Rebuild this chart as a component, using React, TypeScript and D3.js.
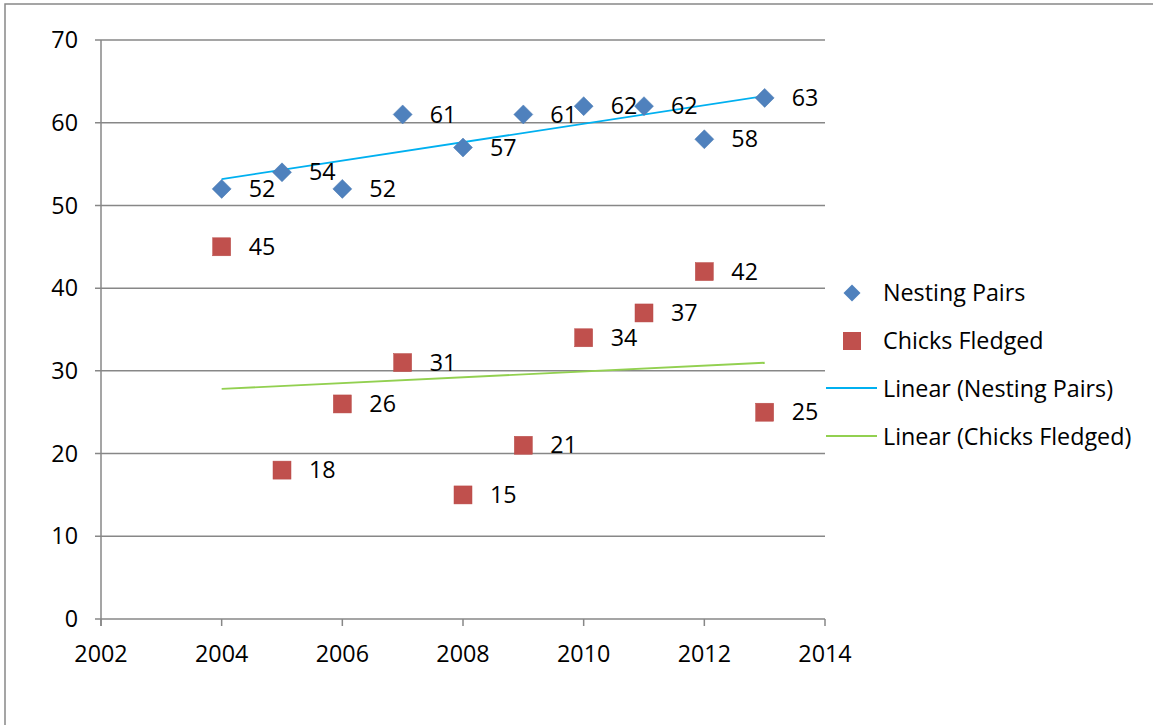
import React from "react";
import * as d3 from "d3";

const years = [2004, 2005, 2006, 2007, 2008, 2009, 2010, 2011, 2012, 2013];
const nestingPairs = [52, 54, 52, 61, 57, 61, 62, 62, 58, 63];
const chicksFledged = [45, 18, 26, 31, 15, 21, 34, 37, 42, 25];
const xTicks = [2002, 2004, 2006, 2008, 2010, 2012, 2014];
const yTicks = [0, 10, 20, 30, 40, 50, 60, 70];
const legendLabels = ["Nesting Pairs", "Chicks Fledged", "Linear (Nesting Pairs)", "Linear (Chicks Fledged)"];

const W = 1153, H = 725;
const FONT = "'Open Sans', Lato, sans-serif";
const FS = 23.3;
const BLUE = "#4F81BD", RED = "#C0504D", CYAN = "#00B0F0", GREEN = "#92D050", GRID = "#878787";

function regression(xs: number[], ys: number[]) {
  const mx = d3.mean(xs)!, my = d3.mean(ys)!;
  let sxy = 0, sxx = 0;
  xs.forEach((x, i) => { sxy += (x - mx) * (ys[i] - my); sxx += (x - mx) ** 2; });
  const b = sxy / sxx;
  return (x: number) => my + b * (x - mx);
}

export default function App() {
  const x = d3.scaleLinear().domain([2002, 2014]).range([101, 825]);
  const y = d3.scaleLinear().domain([0, 70]).range([619, 40]);
  const fN = regression(years, nestingPairs);
  const fC = regression(years, chicksFledged);
  const x0 = years[0], x1 = years[years.length - 1];
  const line = d3.line<[number, number]>().x(d => x(d[0])).y(d => y(d[1]));
  const diamond = (cx: number, cy: number, r = 9.5) => `M${cx},${cy - r}L${cx + r},${cy}L${cx},${cy + r}L${cx - r},${cy}Z`;
  const sq = 18;
  return (
    <svg width={W} height={H} style={{ position: "absolute", left: 0, top: 0, background: "#fff" }} fontFamily={FONT}>
      <rect x={5} y={4} width={W + 10} height={H + 10} fill="#fff" stroke="#888" strokeWidth={1.5} />
      {yTicks.map(t => (
        <g key={t}>
          <line x1={95} x2={825} y1={y(t)} y2={y(t)} stroke={GRID} strokeWidth={1.5} />
          <text x={78} y={y(t)} dy="0.35em" textAnchor="end" fontSize={FS}>{t}</text>
        </g>
      ))}
      <line x1={x(2002)} x2={x(2002)} y1={y(70)} y2={y(0) + 7} stroke={GRID} strokeWidth={1.5} />
      {xTicks.map(t => (
        <g key={t}>
          <line x1={x(t)} x2={x(t)} y1={y(0)} y2={y(0) + 7} stroke={GRID} strokeWidth={1.5} />
          <text x={x(t)} y={662} textAnchor="middle" fontSize={FS}>{t}</text>
        </g>
      ))}
      <path d={line([[x0, fN(x0)], [x1, fN(x1)]])!} stroke={CYAN} strokeWidth={1.8} fill="none" />
      <path d={line([[x0, fC(x0)], [x1, fC(x1)]])!} stroke={GREEN} strokeWidth={1.8} fill="none" />
      {years.map((yr, i) => (
        <g key={"n" + yr}>
          <path d={diamond(x(yr), y(nestingPairs[i]))} fill={BLUE} stroke="#4a7ab3" strokeWidth={0.5} />
          <text x={x(yr) + 27} y={y(nestingPairs[i])} dy="0.35em" fontSize={FS}>{nestingPairs[i]}</text>
        </g>
      ))}
      {years.map((yr, i) => (
        <g key={"c" + yr}>
          <rect x={x(yr) - sq / 2} y={y(chicksFledged[i]) - sq / 2} width={sq} height={sq} fill={RED} stroke="#b84a47" strokeWidth={0.5} />
          <text x={x(yr) + 27} y={y(chicksFledged[i])} dy="0.35em" fontSize={FS}>{chicksFledged[i]}</text>
        </g>
      ))}
      <g>
        <path d={diamond(852, 293, 8.5)} fill={BLUE} />
        <rect x={843} y={332} width={18} height={18} fill={RED} />
        <line x1={826} x2={877} y1={388} y2={388} stroke={CYAN} strokeWidth={1.8} />
        <line x1={826} x2={877} y1={436} y2={436} stroke={GREEN} strokeWidth={1.8} />
        {legendLabels.map((l, i) => (
          <text key={l} x={883} y={293 + i * 48} dy="0.35em" fontSize={FS}>{l}</text>
        ))}
      </g>
    </svg>
  );
}
